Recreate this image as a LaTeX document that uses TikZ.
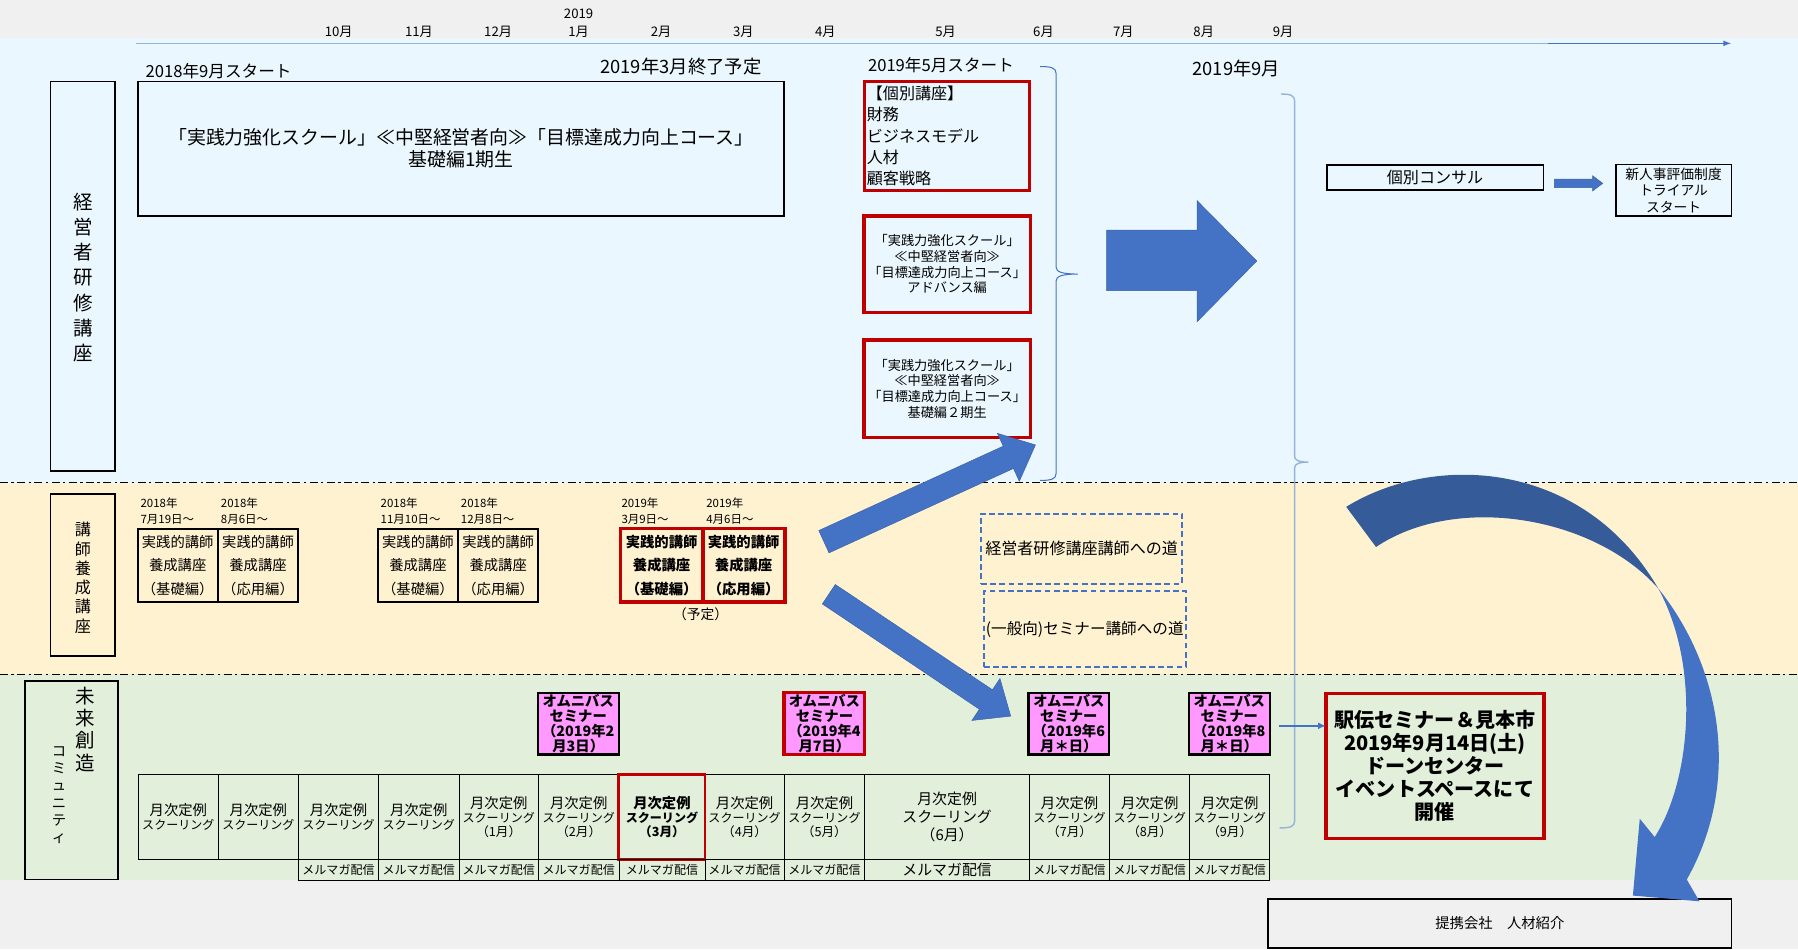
\documentclass[tikz,border=0pt]{standalone}
\usepackage{fontspec}
\setmainfont{Noto Sans CJK JP}
\usetikzlibrary{calc,arrows.meta}
\definecolor{bgray}{HTML}{F0F0F0}
\definecolor{bandblue}{HTML}{EBF7FE}
\definecolor{bandyellow}{HTML}{FFF2D0}
\definecolor{bandgreen}{HTML}{E2EFDA}
\definecolor{redline}{HTML}{C00000}
\definecolor{pinkfill}{HTML}{FF99FF}
\definecolor{arrowblue}{HTML}{4472C4}
\definecolor{darkblue}{HTML}{355C99}
\definecolor{lightline}{HTML}{95B3D7}
\newcommand\fsz[2]{\fontsize{#1}{#2}\selectfont}
\newcommand\tskA{\fsz{12.5}{16}月次定例\\\fsz{10.5}{16}スクーリング}
\newcommand\tskB[1]{\fsz{12.5}{14.5}月次定例\\\fsz{10.5}{14.5}スクーリング\\\fsz{11}{14.5}（#1月）}
\newcommand\blockarrow[5]{%
  \coordinate (ba-h) at ($(#2)!#5!(#1)$);
  \fill[arrowblue,draw=arrowblue!85!black,line width=0.4pt]
    ($(#1)!#3!90:(#2)$) -- ($(ba-h)!#3!-90:(#1)$) -- ($(ba-h)!#4!-90:(#1)$) -- (#2)
    -- ($(ba-h)!#4!90:(#1)$) -- ($(ba-h)!#3!90:(#1)$) -- ($(#1)!#3!-90:(#2)$) -- cycle;}
\begin{document}
\begin{tikzpicture}[x=1pt,y=-1pt,
  every node/.style={inner sep=0pt,outer sep=0pt},
  bbox/.style={draw=black,line width=1.6pt,align=center,anchor=north west},
  rbox/.style={draw=redline,line width=2.8pt,align=center,anchor=north west},
  dbox/.style={draw=arrowblue,line width=1.7pt,dash pattern=on 5pt off 3pt,align=center,anchor=north west},
  pbox/.style={draw=black,line width=1.6pt,minimum width=70pt,minimum height=64pt,anchor=north west,align=center,font={\fsz{12.5}{20.5}}},
  prbox/.style={draw=redline,line width=2.8pt,minimum width=72pt,minimum height=64pt,anchor=north west,align=center,font={\bfseries\fsz{12.5}{20.5}}},
  datelbl/.style={anchor=west,align=left,font={\fsz{10}{14}}},
  omni/.style={fill=pinkfill,draw=black,line width=1.8pt,minimum width=70.5pt,minimum height=54pt,anchor=north west,align=center,font={\bfseries\fsz{12.5}{13.3}}},
  cell/.style={draw=black,line width=0.8pt,anchor=north west,minimum height=74.1pt,align=center},
  cellb/.style={draw=black,line width=0.8pt,anchor=north west,minimum height=18.3pt,align=center,font={\fsz{10.5}{12}}},
  sep/.style={black,line width=0.9pt,dash pattern=on 7pt off 3pt on 2pt off 3pt},
  mon/.style={font={\fsz{11.5}{13}}}
]
\useasboundingbox (0,0) rectangle (1568,828);
% backgrounds
\fill[bgray] (0,0) rectangle (1568,828);
\fill[bandblue] (0,33) rectangle (1568,421);
\fill[bandyellow] (0,421) rectangle (1568,588);
\fill[bandgreen] (0,588) rectangle (1568,767.5);
\draw[sep] (0,421) -- (1568,421);
\draw[sep] (0,588) -- (1568,588);

% timeline
\coordinate (tl0) at (118.7,37.8);
\coordinate (tlm) at (1350,37.8);
\coordinate (tl1) at (1510,37.8);
\draw[lightline,line width=1.2pt] (tl0) -- (tlm);
\draw[arrowblue,line width=1.2pt,-{Latex[length=7pt,width=5pt]}] (tlm) -- (tl1);
\foreach \x/\m in {295.4/10,365.4/11,434.4/12,504.6/1,576.5/2,648.3/3,719.8/4,824.6/5,910/6,979.6/7,1049.7/8,1119/9}
  \node[mon] (m\m) at (\x,27.6) {\m 月};
\node[mon] (y2019) at (504.6,11.6) {2019};

% ===== top section =====
\node[anchor=west,font={\fsz{14.5}{17}}] (start1) at (127,62) {2018年9月スタート};
\node[anchor=east,font={\fsz{16}{18}}] (end1) at (664,58) {2019年3月終了予定};
\node[bbox,minimum width=564pt,minimum height=117pt,font={\fsz{16.5}{19}}] (kiso1) at (120,71)
  {「実践力強化スクール」≪中堅経営者向≫「目標達成力向上コース」\\基礎編1期生};
\node[bbox,minimum width=56pt,minimum height=340pt] (lab1) at (44,71) {};
\node[align=center,font={\fsz{17}{22}}] (lab1t) at (72.4,242) {経\\営\\者\\研\\修\\講\\座};

\node[anchor=west,font={\fsz{14.5}{17}}] (start2) at (757,56.7) {2019年5月スタート};
\node[rbox,minimum width=144pt,minimum height=95pt,text width=140pt,align=left,font={\fsz{14}{18.4}}] (kobetsu) at (754,71)
  {【個別講座】\\財務\\ビジネスモデル\\人材\\顧客戦略};
\node[rbox,minimum width=145pt,minimum height=84pt,font={\fsz{11.5}{13.8}}] (adv) at (753.5,188.4)
  {「実践力強化スクール」\\≪中堅経営者向≫\\「目標達成力向上コース」\\アドバンス編};
\node[rbox,minimum width=145pt,minimum height=85pt,font={\fsz{11.5}{13.8}}] (kiso2) at (753.5,296.5)
  {「実践力強化スクール」\\≪中堅経営者向≫\\「目標達成力向上コース」\\基礎編２期生};

% brace 1
\draw[arrowblue,line width=0.9pt] (907,58) .. controls (916,58) and (921,59) .. (921,64) -- (921,233)
  .. controls (921,237) and (926,239) .. (940,239) .. controls (926,239) and (921,241) .. (921,245)
  -- (921,413) .. controls (921,418) and (916,419) .. (907,419);
% big right arrow
\fill[arrowblue,draw=arrowblue!85!black,line width=0.4pt] (965,200.6) -- (1044,200.6) -- (1044,175) -- (1096,227.6)
  -- (1044,280.5) -- (1044,253.5) -- (965,253.5) -- cycle;

\node[anchor=west,font={\fsz{16}{18}}] (sep9) at (1040,60) {2019年9月};
% brace 2
\draw[lightline,line width=1.2pt] (1117,82) .. controls (1125,82) and (1129,83) .. (1129,88) -- (1129,398)
  .. controls (1129,401) and (1132,403) .. (1141,403) .. controls (1132,403) and (1129,405) .. (1129,408)
  -- (1129,716) .. controls (1129,721) and (1125,722) .. (1116,722);

\node[bbox,minimum width=189pt,minimum height=22pt,font={\fsz{14}{16}}] (konsaru) at (1157,144) {個別コンサル};
\node[bbox,minimum width=101pt,minimum height=45pt,font={\fsz{12}{14.5}}] (shinjinji) at (1409,143.5) {新人事評価制度\\トライアル\\スタート};
\fill[arrowblue,draw=arrowblue!85!black,line width=0.4pt] (1355.6,156.1) -- (1388.8,156.1) -- (1388.8,153.2) -- (1397.7,159.9)
  -- (1388.8,166.6) -- (1388.8,163.7) -- (1355.6,163.7) -- cycle;

% ===== trainer section =====
\node[bbox,minimum width=56pt,minimum height=141pt] (lab2) at (44,431) {};
\node[align=center,font={\fsz{14}{16.8}}] (lab2t) at (72.4,504) {講\\師\\養\\成\\講\\座};

\node[datelbl] (d1) at (122.6,446) {2018年\\7月19日～};
\node[datelbl] (d2) at (192.7,446) {2018年\\8月6日～};
\node[datelbl] (d3) at (332,446) {2018年\\11月10日～};
\node[datelbl] (d4) at (402,446) {2018年\\12月8日～};
\node[datelbl] (d5) at (542,446) {2019年\\3月9日～};
\node[datelbl] (d6) at (616,446) {2019年\\4月6日～};

\node[pbox] (p1) at (120,461) {実践的講師\\養成講座\\（基礎編）};
\node[pbox] (p2) at (190,461) {実践的講師\\養成講座\\（応用編）};
\node[pbox] (p3) at (329.5,461) {実践的講師\\養成講座\\（基礎編）};
\node[pbox] (p4) at (399.5,461) {実践的講師\\養成講座\\（応用編）};
\node[prbox] (p5) at (541,461) {実践的講師\\養成講座\\（基礎編）};
\node[prbox] (p6) at (612.5,461) {実践的講師\\養成講座\\（応用編）};
\node[font={\fsz{12}{14}}] (yotei) at (611,536) {（予定）};

\node[dbox,minimum width=175.5pt,minimum height=61pt,font={\fsz{14}{16}}] (michi1) at (855.5,448) {経営者研修講座講師への道};
\node[dbox,minimum width=176pt,minimum height=66pt,font={\fsz{13.6}{16}}] (michi2) at (858,515.5) {(一般向)セミナー講師への道};

\coordinate (aA0) at (718.5,472.4);
\coordinate (aA1) at (903,388);
\blockarrow{aA0}{aA1}{10.7pt}{23pt}{26pt}
\coordinate (aB0) at (722.8,518.2);
\coordinate (aB1) at (881.4,624.5);
\blockarrow{aB0}{aB1}{10.2pt}{22pt}{26pt}

% ===== community section =====
\node[bbox,minimum width=81pt,minimum height=173pt] (lab3) at (22,594) {};
\node[align=center,font={\fsz{17}{19.5}}] (lab3a) at (74,636) {未\\来\\創\\造};
\node[align=center,font={\fsz{12.5}{15}}] (lab3b) at (51.5,693.5) {コ\\ミ\\ュ\\ニ\\テ\\ィ};

\node[omni] (om1) at (469,604) {オムニバス\\セミナー\\（2019年2\\月3日）};
\node[omni,draw=redline,line width=2.8pt] (om2) at (683.7,604) {オムニバス\\セミナー\\（2019年4\\月7日）};
\node[omni] (om3) at (896.9,604) {オムニバス\\セミナー\\（2019年6\\月＊日）};
\node[omni] (om4) at (1036.8,604) {オムニバス\\セミナー\\（2019年8\\月＊日）};

% table
\node[cell,minimum width=69.5pt] (c1) at (120.8,675.3) {\tskA};
\node[cell,minimum width=70.1pt] (c2) at (190.3,675.3) {\tskA};
\node[cell,minimum width=69.6pt] (c3) at (260.4,675.3) {\tskA};
\node[cell,minimum width=70.3pt] (c4) at (330,675.3) {\tskA};
\node[cell,minimum width=69.3pt] (c5) at (400.3,675.3) {\tskB{1}};
\node[cell,minimum width=70.2pt] (c6) at (469.6,675.3) {\tskB{2}};
\node[cell,minimum width=69.1pt] (c8) at (614.8,675.3) {\tskB{4}};
\node[cell,minimum width=70.1pt] (c9) at (683.9,675.3) {\tskB{5}};
\node[cell,minimum width=143.9pt,font={\fsz{13}{15.5}}] (c10) at (754,675.3) {月次定例\\スクーリング\\（6月）};
\node[cell,minimum width=69.7pt] (c11) at (897.9,675.3) {\tskB{7}};
\node[cell,minimum width=70pt] (c12) at (967.6,675.3) {\tskB{8}};
\node[cell,minimum width=69.6pt] (c13) at (1037.6,675.3) {\tskB{9}};
\node[cell,minimum width=75pt,draw=redline,line width=2.6pt] (c7) at (539.8,675.3)
  {\bfseries\fsz{12.5}{14.5}月次定例\\\bfseries\fsz{10.5}{14.5}スクーリング\\\bfseries\fsz{11}{14.5}（3月）};

\node[cellb,minimum width=69.6pt] (r3) at (260.4,749.4) {メルマガ配信};
\node[cellb,minimum width=70.3pt] (r4) at (330,749.4) {メルマガ配信};
\node[cellb,minimum width=69.3pt] (r5) at (400.3,749.4) {メルマガ配信};
\node[cellb,minimum width=70.2pt] (r6) at (469.6,749.4) {メルマガ配信};
\node[cellb,minimum width=75pt] (r7) at (539.8,749.4) {メルマガ配信};
\node[cellb,minimum width=69.1pt] (r8) at (614.8,749.4) {メルマガ配信};
\node[cellb,minimum width=70.1pt] (r9) at (683.9,749.4) {メルマガ配信};
\node[cellb,minimum width=143.9pt,font={\fsz{13}{14}}] (r10) at (754,749.4) {メルマガ配信};
\node[cellb,minimum width=69.7pt] (r11) at (897.9,749.4) {メルマガ配信};
\node[cellb,minimum width=70pt] (r12) at (967.6,749.4) {メルマガ配信};
\node[cellb,minimum width=69.6pt] (r13) at (1037.6,749.4) {メルマガ配信};

\node[rbox,minimum width=190pt,minimum height=126.5pt,font={\bfseries\fsz{17.5}{20}}] (ekiden) at (1156.4,604.6)
  {駅伝セミナー＆見本市\\2019年9月14日(土)\\ドーンセンター\\イベントスペースにて\\開催};
\coordinate (ek0) at (1115,633);
\draw[arrowblue,line width=1.3pt,-{Latex[length=7pt,width=6pt]}] (ek0) -- (ek0 -| ekiden.west);

\node[bbox,fill=bgray,minimum width=404pt,minimum height=42.5pt,font={\fsz{12.5}{14}}] (teikei) at (1106,784) {提携会社　人材紹介};

% curved arrow
\fill[darkblue] (1174,442) .. controls (1250,395) and (1380,400) .. (1446,513)
  .. controls (1390,450) and (1270,430) .. (1200,477) -- cycle;
\fill[arrowblue] (1446,513) .. controls (1500,580) and (1520,680) .. (1471,767) -- (1482,786) -- (1424,781)
  -- (1430,714) -- (1443,730) .. controls (1475,680) and (1483,580) .. (1446,513) -- cycle;
\end{tikzpicture}
\end{document}
